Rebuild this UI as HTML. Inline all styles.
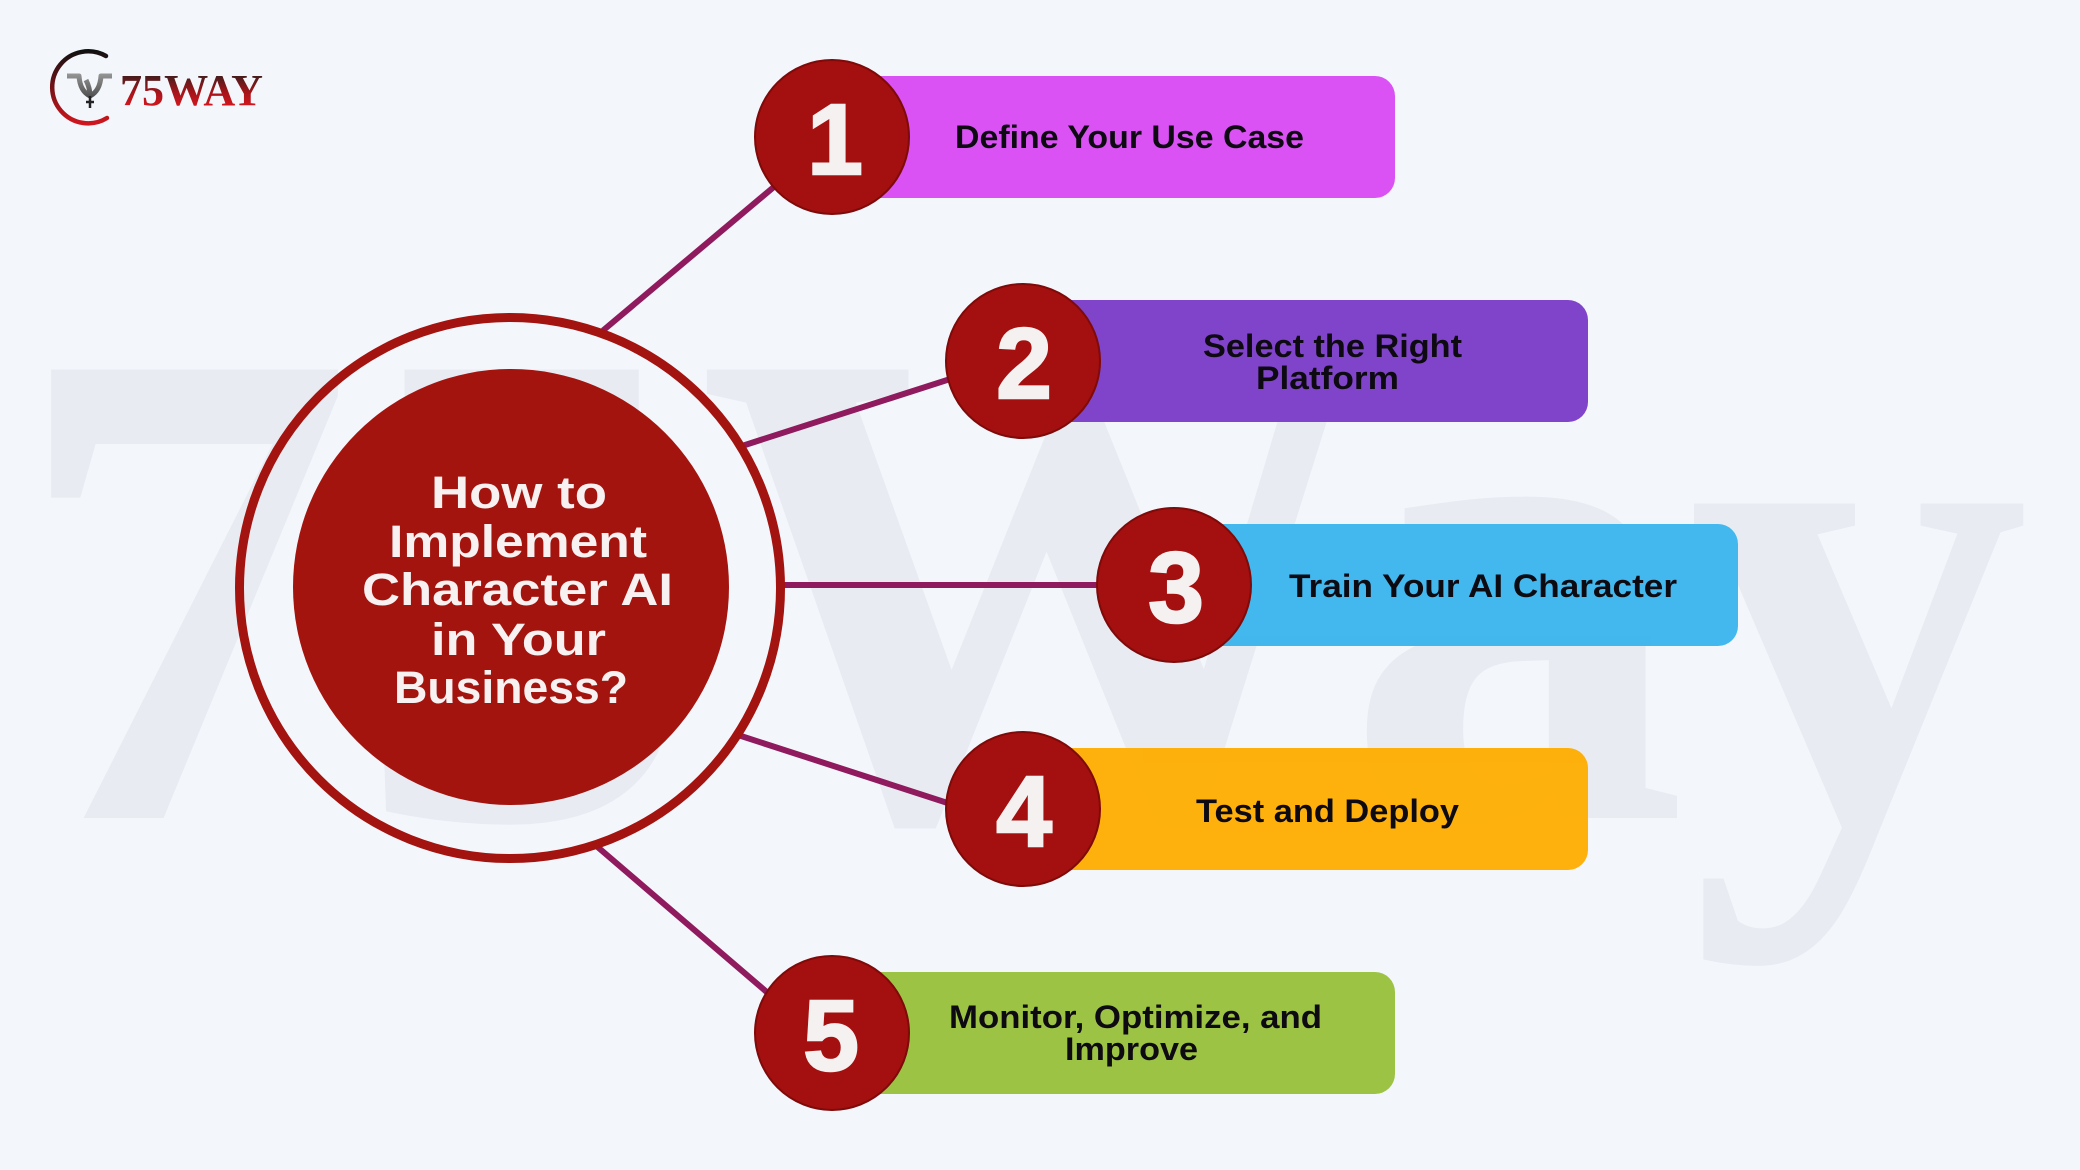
<!DOCTYPE html>
<html>
<head>
<meta charset="utf-8">
<style>
  html,body{margin:0;padding:0;background:#f3f7fc;}
  svg{display:block;}
  .lbl{font-family:"Liberation Sans",Arial,sans-serif;font-weight:bold;font-size:32px;fill:#0e0a12;}
  .ttl{font-family:"Liberation Sans",Arial,sans-serif;font-weight:bold;font-size:45px;fill:#f7f1f1;}
  .num{font-family:"Liberation Sans",Arial,sans-serif;font-weight:bold;font-size:100px;fill:#f6f1f1;stroke:#f6f1f1;stroke-width:2.5;}
</style>
</head>
<body>
<svg width="2080" height="1170" viewBox="0 0 2080 1170" xmlns="http://www.w3.org/2000/svg">
  <defs>
    <linearGradient id="arcG" x1="0" y1="50" x2="0" y2="124" gradientUnits="userSpaceOnUse">
      <stop offset="0" stop-color="#111"/>
      <stop offset="0.45" stop-color="#6a1216"/>
      <stop offset="1" stop-color="#d0161e"/>
    </linearGradient>
    <linearGradient id="txtG" x1="0" y1="74" x2="0" y2="106" gradientUnits="userSpaceOnUse">
      <stop offset="0" stop-color="#3a1d1d"/>
      <stop offset="0.55" stop-color="#a3141a"/>
      <stop offset="1" stop-color="#d3161e"/>
    </linearGradient>
    <linearGradient id="symG" x1="0" y1="72" x2="0" y2="108" gradientUnits="userSpaceOnUse">
      <stop offset="0" stop-color="#9a9a9a"/>
      <stop offset="0.6" stop-color="#5a5a5a"/>
      <stop offset="1" stop-color="#222"/>
    </linearGradient>
  </defs>

  <rect width="2080" height="1170" fill="#f3f7fc"/>

  <!-- watermark -->
  <text x="12" y="818" font-family="Liberation Serif, serif" font-weight="bold" font-size="685" fill="#e8ecf2" textLength="2018" lengthAdjust="spacingAndGlyphs">75Way</text>

  <!-- logo -->
  <path d="M106,56 A36,36 0 1 0 107,118" fill="none" stroke="url(#arcG)" stroke-width="4.5" stroke-linecap="round"/>
  <g fill="none" stroke="url(#symG)" stroke-width="5" stroke-linejoin="round">
    <path d="M67,76 H79 Q80,91 90,96"/>
    <path d="M112,76 H101 Q100,91 90,96"/>
    <path d="M86,80 Q90,88 90,96"/>
  </g>
  <path d="M90,96 V108 M86,102 H94" stroke="#222" stroke-width="2.5" fill="none"/>
  <text x="120" y="105" font-family="Liberation Serif, serif" font-weight="bold" font-size="44" fill="url(#txtG)" textLength="143" lengthAdjust="spacingAndGlyphs">75WAY</text>

  <!-- connectors -->
  <g stroke="#8f1a5d" stroke-width="6" stroke-linecap="butt">
    <line x1="603" y1="330.5" x2="800" y2="165"/>
    <line x1="740" y1="446.6" x2="1000" y2="363"/>
    <line x1="776" y1="585" x2="1110" y2="585"/>
    <line x1="738" y1="735" x2="1000" y2="820"/>
    <line x1="597" y1="846.5" x2="790" y2="1012"/>
  </g>

  <!-- center -->
  <circle cx="510" cy="588" r="270.5" fill="none" stroke="#a3130f" stroke-width="9"/>
  <circle cx="511" cy="587" r="218" fill="#a3140f"/>
  <text class="ttl" x="431" y="508" textLength="176" lengthAdjust="spacingAndGlyphs">How to</text>
  <text class="ttl" x="389" y="557" textLength="258" lengthAdjust="spacingAndGlyphs">Implement</text>
  <text class="ttl" x="362" y="605" textLength="311" lengthAdjust="spacingAndGlyphs">Character AI</text>
  <text class="ttl" x="431" y="655" textLength="175" lengthAdjust="spacingAndGlyphs">in Your</text>
  <text class="ttl" x="394" y="703" textLength="234" lengthAdjust="spacingAndGlyphs">Business?</text>

  <!-- boxes -->
  <g opacity="0.96">
    <rect x="832" y="76" width="563" height="122" rx="20" fill="#d84bf4"/>
    <rect x="1023" y="300" width="565" height="122" rx="20" fill="#7b3cc8"/>
    <rect x="1174" y="524" width="564" height="122" rx="20" fill="#3bb5ed"/>
    <rect x="1023" y="748" width="565" height="122" rx="20" fill="#feae03"/>
    <rect x="832" y="972" width="563" height="122" rx="20" fill="#99c13d"/>
  </g>

  <!-- labels -->
  <text class="lbl" x="955" y="148" textLength="349" lengthAdjust="spacingAndGlyphs">Define Your Use Case</text>
  <text class="lbl" x="1203" y="357" textLength="259" lengthAdjust="spacingAndGlyphs">Select the Right</text>
  <text class="lbl" x="1256" y="389" textLength="143" lengthAdjust="spacingAndGlyphs">Platform</text>
  <text class="lbl" x="1289" y="597" textLength="388" lengthAdjust="spacingAndGlyphs">Train Your AI Character</text>
  <text class="lbl" x="1196" y="822" textLength="263" lengthAdjust="spacingAndGlyphs">Test and Deploy</text>
  <text class="lbl" x="949" y="1028" textLength="373" lengthAdjust="spacingAndGlyphs">Monitor, Optimize, and</text>
  <text class="lbl" x="1065" y="1060" textLength="133" lengthAdjust="spacingAndGlyphs">Improve</text>

  <!-- number circles -->
  <g fill="#a40f0f" stroke="#7e0a0a" stroke-width="2">
    <circle cx="832" cy="137" r="77"/>
    <circle cx="1023" cy="361" r="77"/>
    <circle cx="1174" cy="585" r="77"/>
    <circle cx="1023" cy="809" r="77"/>
    <circle cx="832" cy="1033" r="77"/>
  </g>
  <text class="num" x="835" y="174" text-anchor="middle">1</text>
  <text class="num" x="1024" y="398" text-anchor="middle">2</text>
  <text class="num" x="1176" y="622" text-anchor="middle">3</text>
  <text class="num" x="1024" y="846" text-anchor="middle">4</text>
  <text class="num" x="831" y="1070" text-anchor="middle">5</text>
</svg>
</body>
</html>
